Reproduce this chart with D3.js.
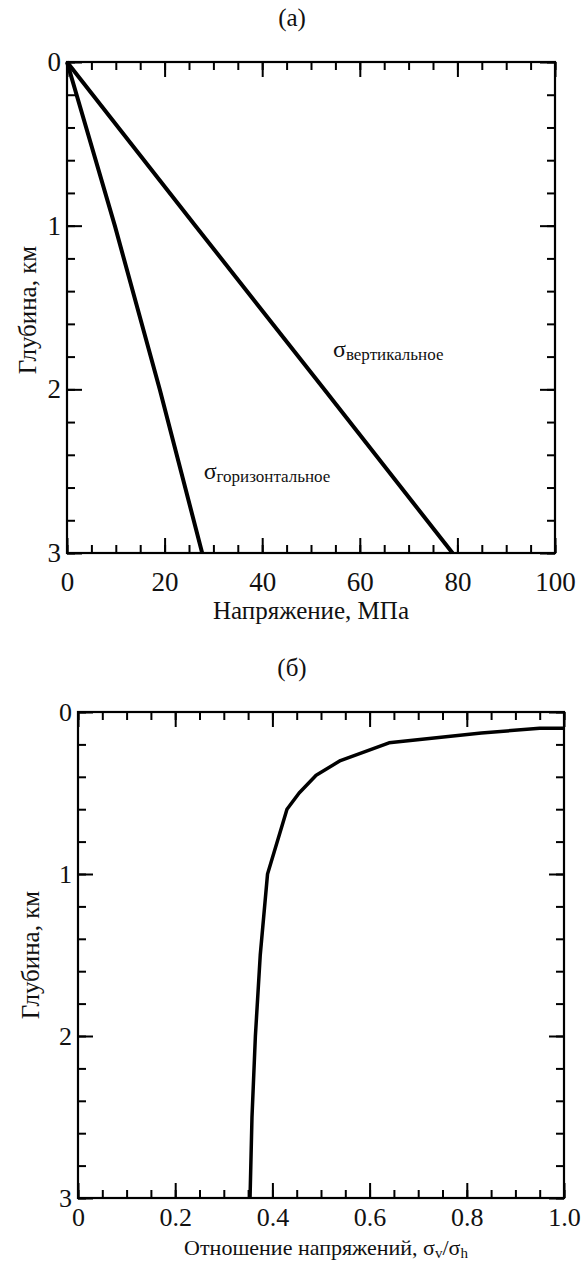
<!DOCTYPE html>
<html><head><meta charset="utf-8">
<script src="https://cdn.jsdelivr.net/npm/d3@7"></script>
<style>
body{margin:0;background:#fff;}
svg text{font-family:"Liberation Serif","DejaVu Serif","Times New Roman",serif !important;}
.axis path{display:none;}
.axis line{stroke:#000;stroke-width:2;}
.axis text{fill:#111;}
</style></head>
<body>
<svg id="c" width="584" height="1262"></svg>
<script>
// Panel (a) data
const depthA = [0, 1, 2, 3];
const sigmaVertical = [0, 26.3, 52.7, 79];
const sigmaHorizontal = [0, 9.8, 19, 27.7];
const xTicksA = [0, 20, 40, 60, 80, 100];
const yTicks = [0, 1, 2, 3];
// Panel (b) data
const depthB = [0.1, 0.1, 0.13, 0.19, 0.3, 0.39, 0.5, 0.6, 0.7, 1.0, 1.5, 2.0, 2.5, 3.0];
const ratioB = [1.0, 0.95, 0.83, 0.64, 0.54, 0.49, 0.455, 0.43, 0.42, 0.39, 0.375, 0.365, 0.358, 0.354];
const xTicksB = [0, 0.2, 0.4, 0.6, 0.8, 1.0];

const FONT = "Liberation Serif, DejaVu Serif, serif";
const LABFS = 25, TITLEFS = 25;
const svg = d3.select("#c");

function panel(cfg) {
  const g = svg.append("g");
  const x = d3.scaleLinear().domain(cfg.xDomain).range([cfg.left, cfg.right]);
  const y = d3.scaleLinear().domain([0, 3]).range([cfg.top, cfg.bottom]);
  const minorX = d3.range(cfg.xDomain[0], cfg.xDomain[1] + cfg.xMinor / 2, cfg.xMinor);
  const minorY = d3.range(0, 3.0001, 0.2);
  const MAJ = -15, MIN = -8;
  const fix = sel => sel.attr("font-family", FONT).attr("font-size", cfg.tickFs);

  g.append("g").attr("class","axis").attr("transform",`translate(0,${cfg.bottom})`)
    .call(d3.axisBottom(x).tickValues(minorX).tickSize(MIN).tickFormat(""));
  g.append("g").attr("class","axis").attr("transform",`translate(0,${cfg.top})`)
    .call(d3.axisTop(x).tickValues(minorX).tickSize(MIN).tickFormat(""));
  g.append("g").attr("class","axis").attr("transform",`translate(${cfg.left},0)`)
    .call(d3.axisLeft(y).tickValues(minorY).tickSize(MIN).tickFormat(""));
  g.append("g").attr("class","axis").attr("transform",`translate(${cfg.right},0)`)
    .call(d3.axisRight(y).tickValues(minorY).tickSize(MIN).tickFormat(""));
  g.append("g").attr("class","axis").attr("transform",`translate(0,${cfg.bottom})`)
    .call(d3.axisBottom(x).tickValues(cfg.xTicks).tickSize(MAJ).tickPadding(cfg.xPad).tickFormat(cfg.xFmt)).call(fix);
  g.append("g").attr("class","axis").attr("transform",`translate(0,${cfg.top})`)
    .call(d3.axisTop(x).tickValues(cfg.xTicks).tickSize(MAJ).tickFormat(""));
  g.append("g").attr("class","axis").attr("transform",`translate(${cfg.left},0)`)
    .call(d3.axisLeft(y).tickValues(yTicks).tickSize(MAJ).tickPadding(cfg.yPad).tickFormat(d3.format("d"))).call(fix);
  g.append("g").attr("class","axis").attr("transform",`translate(${cfg.right},0)`)
    .call(d3.axisRight(y).tickValues(yTicks).tickSize(MAJ).tickFormat(""));

  g.append("rect").attr("x",cfg.left).attr("y",cfg.top)
    .attr("width",cfg.right-cfg.left).attr("height",cfg.bottom-cfg.top)
    .attr("fill","none").attr("stroke","#000").attr("stroke-width",2.2);

  g.append("text").attr("x",292).attr("y",cfg.titleY).attr("text-anchor","middle")
    .attr("font-family",FONT).attr("font-size",TITLEFS).attr("fill","#111").text(cfg.title);
  g.append("text").attr("transform",`translate(${cfg.yLabX},${cfg.yLabY}) rotate(-90)`)
    .attr("text-anchor","middle").attr("font-family",FONT).attr("font-size",LABFS).attr("fill","#111").text("Глубина, км");
  return {g, x, y};
}

const A = panel({left:67, right:555, top:62, bottom:553, xDomain:[0,100], xMinor:5, tickFs:27,
  xTicks:xTicksA, xFmt:d3.format("d"), xPad:19, yPad:6, title:"(a)", titleY:26, yLabX:36, yLabY:310});
const lineA = d3.line().x(d => A.x(d[0])).y(d => A.y(d[1]));
A.g.append("path").datum(depthA.map((d,i)=>[sigmaVertical[i], d]))
  .attr("d", lineA).attr("fill","none").attr("stroke","#000").attr("stroke-width",4);
A.g.append("path").datum(depthA.map((d,i)=>[sigmaHorizontal[i], d]))
  .attr("d", lineA).attr("fill","none").attr("stroke","#000").attr("stroke-width",4);
A.g.append("text").attr("x",A.x(54.5)).attr("y",A.y(1.8)).attr("font-family",FONT).attr("font-size",24).attr("fill","#111")
  .html('σ<tspan font-size="17" dy="3">вертикальное</tspan>');
A.g.append("text").attr("x",A.x(28)).attr("y",A.y(2.55)).attr("font-family",FONT).attr("font-size",24).attr("fill","#111")
  .html('σ<tspan font-size="17" dy="3">горизонтальное</tspan>');
A.g.append("text").attr("x",311).attr("y",619).attr("text-anchor","middle")
  .attr("font-family",FONT).attr("font-size",LABFS).attr("fill","#111").text("Напряжение, МПа");

const B = panel({left:78, right:564, top:712, bottom:1198, xDomain:[0,1], xMinor:0.05, tickFs:26,
  xTicks:xTicksB, xFmt:d => d === 0 ? "0" : d.toFixed(1), xPad:10, yPad:6, title:"(б)", titleY:676, yLabX:39, yLabY:955});
B.g.append("path").datum(depthB.map((d,i)=>[ratioB[i], d]))
  .attr("d", d3.line().x(d => B.x(d[0])).y(d => B.y(d[1])))
  .attr("fill","none").attr("stroke","#000").attr("stroke-width",3.5)
  .attr("stroke-linejoin","round");
B.g.append("text").attr("x",326).attr("y",1255).attr("text-anchor","middle")
  .attr("font-family",FONT).attr("font-size",22).attr("fill","#111")
  .html('Отношение напряжений, σ<tspan font-size="15" dy="3">v</tspan><tspan dy="-3">/σ</tspan><tspan font-size="15" dy="3">h</tspan>');
</script>
</body></html>
